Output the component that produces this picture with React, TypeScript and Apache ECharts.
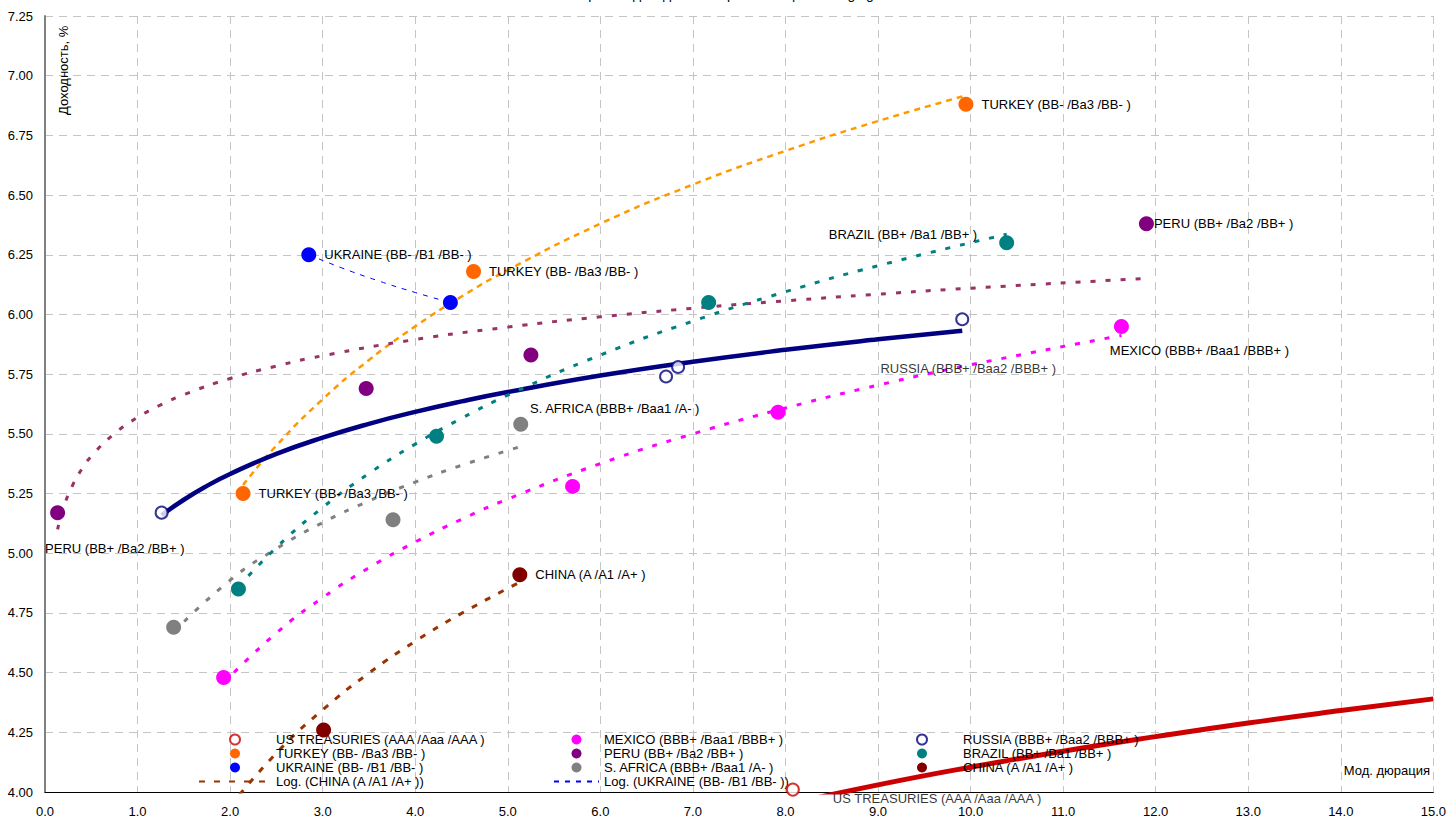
import React, { useEffect, useRef } from 'react';
import * as echarts from 'echarts';

// ---- Data (modified duration, yield %) ----
const usDur = [8.08];
const usYld = [4.01];
const turkeyDur = [2.14, 4.63, 9.95];
const turkeyYld = [5.25, 6.18, 6.88];
const ukraineDur = [2.85, 4.38];
const ukraineYld = [6.25, 6.05];
const mexicoDur = [1.93, 5.7, 7.92, 11.63];
const mexicoYld = [4.48, 5.28, 5.59, 5.95];
const peruDur = [0.136, 3.47, 5.25, 11.9];
const peruYld = [5.17, 5.69, 5.83, 6.38];
const safricaDur = [1.39, 3.76, 5.14];
const safricaYld = [4.69, 5.14, 5.54];
const russiaDur = [1.26, 6.71, 6.84, 9.91];
const russiaYld = [5.17, 5.74, 5.78, 5.98];
const brazilDur = [2.09, 4.23, 7.17, 10.39];
const brazilYld = [4.85, 5.49, 6.05, 6.3];
const chinaDur = [3.01, 5.13];
const chinaYld = [4.26, 4.91];

// ---- Logarithmic trend lines ----
const usTrendDur = [8.0, 9, 10, 11, 12, 13, 14, 15];
const usTrendYld = [3.947, 4.03, 4.104, 4.171, 4.232, 4.289, 4.341, 4.39];
const turkeyTrendDur = [2.14, 2.5, 3, 3.5, 4, 4.5, 5, 6, 7, 8, 9, 9.95];
const turkeyTrendYld = [5.286, 5.451, 5.645, 5.809, 5.95, 6.075, 6.186, 6.38, 6.544, 6.685, 6.81, 6.917];
const ukraineTrendDur = [2.85, 3.2, 3.6, 4.0, 4.38];
const ukraineTrendYld = [6.25, 6.196, 6.141, 6.092, 6.05];
const mexicoTrendDur = [1.93, 2.5, 3, 3.5, 4, 4.5, 5, 6, 7, 8, 9, 10, 11.63];
const mexicoTrendYld = [4.457, 4.666, 4.814, 4.939, 5.047, 5.142, 5.227, 5.375, 5.5, 5.608, 5.704, 5.789, 5.912];
const peruTrendDur = [0.136, 0.2, 0.3, 0.4, 0.5, 0.75, 1, 1.25, 1.5, 2, 2.5, 3, 4, 5, 6, 7, 8, 9, 10, 11.9];
const peruTrendYld = [5.1, 5.191, 5.286, 5.354, 5.406, 5.501, 5.569, 5.621, 5.664, 5.732, 5.784, 5.827, 5.895, 5.947, 5.99, 6.026, 6.057, 6.085, 6.11, 6.151];
const safricaTrendDur = [1.39, 2, 2.5, 3, 3.5, 4, 4.5, 5.14];
const safricaTrendYld = [4.67, 4.887, 5.019, 5.128, 5.219, 5.298, 5.368, 5.447];
const russiaTrendDur = [1.26, 1.5, 1.75, 2, 2.5, 3, 3.5, 4, 4.5, 5, 6, 7, 8, 9, 9.91];
const russiaTrendYld = [5.159, 5.224, 5.282, 5.332, 5.416, 5.484, 5.542, 5.592, 5.636, 5.675, 5.744, 5.802, 5.852, 5.896, 5.932];
const brazilTrendDur = [2.09, 2.5, 3, 3.5, 4, 4.5, 5, 6, 7, 8, 9, 10.39];
const brazilTrendYld = [4.859, 5.024, 5.192, 5.334, 5.457, 5.565, 5.662, 5.83, 5.972, 6.095, 6.204, 6.336];
const chinaTrendDur = [2.0, 2.5, 3, 3.5, 4, 4.5, 5.13];
const chinaTrendYld = [3.94, 4.163, 4.344, 4.498, 4.631, 4.748, 4.879];

// ---- Names ----
const US = 'US TREASURIES (AAA /Aaa /AAA )';
const TURKEY = 'TURKEY (BB- /Ba3 /BB- )';
const UKRAINE = 'UKRAINE (BB- /B1 /BB- )';
const MEXICO = 'MEXICO (BBB+ /Baa1 /BBB+ )';
const PERU = 'PERU (BB+ /Ba2 /BB+ )';
const SAFRICA = 'S. AFRICA (BBB+ /Baa1 /A- )';
const RUSSIA = 'RUSSIA (BBB+ /Baa2 /BBB+ )';
const BRAZIL = 'BRAZIL (BB+ /Ba1 /BB+ )';
const CHINA = 'CHINA (A /A1 /A+ )';
const LOG_CHINA = 'Log. (' + CHINA + ')';
const LOG_UKRAINE = 'Log. (' + UKRAINE + ')';

const FONT = 'Arial, "Liberation Sans", sans-serif';
const FS = 13;

const pairs = (xs: number[], ys: number[]) => xs.map((x, i) => [x, ys[i]]);

function pointSeries(
  name: string,
  xs: number[],
  ys: number[],
  color: string,
  labels: Record<number, any>,
  hollow = false
) {
  return {
    name,
    type: 'scatter',
    z: 5,
    symbol: hollow ? 'emptyCircle' : 'circle',
    symbolSize: hollow ? 12 : 15,
    itemStyle: hollow
      ? { color, borderColor: color, borderWidth: 2.5 }
      : { color, opacity: 1 },
    label: { show: false, formatter: '{a}', color: '#000', fontSize: FS, fontFamily: FONT },
    emphasis: { disabled: true },
    data: xs.map((x, i) =>
      labels[i]
        ? { value: [x, ys[i]], label: { show: true, ...labels[i] } }
        : [x, ys[i]]
    ),
  };
}

function trendSeries(name: string, xs: number[], ys: number[], color: string, width: number, type: any) {
  return {
    name,
    type: 'line',
    z: 3,
    smooth: 0.5,
    symbol: 'none',
    showSymbol: false,
    clip: true,
    lineStyle: { color, width, type, cap: 'butt' },
    itemStyle: { color },
    emphasis: { disabled: true },
    data: pairs(xs, ys),
  };
}

const DOT = [5, 10];

const legendBase = {
  orient: 'vertical',
  top: 728,
  itemHeight: 10,
  itemGap: 1,
  align: 'left',
  selectedMode: false,
  textStyle: { fontSize: FS, color: '#000', fontFamily: FONT },
};

const option: any = {
  animation: false,
  backgroundColor: '#ffffff',
  textStyle: { fontFamily: FONT },
  title: {
    text: 'Кривые доходности еврооблигаций Emerging Markets',
    left: 580,
    top: -13,
    padding: 0,
    textStyle: { fontSize: 14, fontWeight: 'normal', color: '#000', fontFamily: FONT },
  },
  grid: { left: 45, right: 14, top: 16, bottom: 28, containLabel: false },
  xAxis: {
    type: 'value',
    min: 0,
    max: 15,
    interval: 1,
    axisLine: { show: true, onZero: false, lineStyle: { color: '#000', width: 1 } },
    axisTick: { show: false },
    axisLabel: {
      margin: 13,
      color: '#000',
      fontSize: FS,
      fontFamily: FONT,
      formatter: (v: number) => v.toFixed(1),
    },
    splitLine: { show: true, lineStyle: { color: '#c4c4c4', type: [8, 6], width: 1 } },
  },
  yAxis: {
    type: 'value',
    min: 4,
    max: 7.25,
    interval: 0.25,
    axisLine: { show: true, onZero: false, lineStyle: { color: '#808080', width: 2 } },
    axisTick: { show: false },
    axisLabel: {
      margin: 12,
      color: '#000',
      fontSize: FS,
      fontFamily: FONT,
      formatter: (v: number) => v.toFixed(2),
    },
    splitLine: { show: true, lineStyle: { color: '#c4c4c4', type: [8, 6], width: 1 } },
  },
  legend: [
    {
      ...legendBase,
      left: 193,
      itemWidth: 72,
      data: [US, TURKEY, UKRAINE, { name: LOG_CHINA, itemStyle: { opacity: 0 } }],
    },
    {
      ...legendBase,
      left: 548,
      itemWidth: 45,
      data: [MEXICO, PERU, SAFRICA, { name: LOG_UKRAINE, itemStyle: { opacity: 0 } }],
    },
    {
      ...legendBase,
      left: 911,
      itemWidth: 72,
      data: [RUSSIA, BRAZIL, CHINA],
    },
  ],
  graphic: [
    {
      type: 'text',
      x: 63,
      y: 115,
      rotation: Math.PI / 2,
      style: {
        text: 'Доходность, %',
        fill: '#000',
        font: FS + 'px ' + FONT,
        textAlign: 'left',
        textVerticalAlign: 'middle',
      },
      z: 10,
    },
    {
      type: 'text',
      x: 1430,
      y: 770,
      style: {
        text: 'Мод. дюрация',
        fill: '#000',
        font: FS + 'px ' + FONT,
        textAlign: 'right',
        textVerticalAlign: 'middle',
      },
      z: 10,
    },
  ],
  series: [
    trendSeries('Log. (' + US + ')', usTrendDur, usTrendYld, '#CC0000', 5, 'solid'),
    trendSeries('Log. (' + TURKEY + ')', turkeyTrendDur, turkeyTrendYld, '#FF9900', 2.5, [6, 5]),
    trendSeries(LOG_UKRAINE, ukraineTrendDur, ukraineTrendYld, '#0000FF', 1, [5, 6]),
    trendSeries('Log. (' + MEXICO + ')', mexicoTrendDur, mexicoTrendYld, '#FF00FF', 3, DOT),
    trendSeries('Log. (' + PERU + ')', peruTrendDur, peruTrendYld, '#993366', 3, DOT),
    trendSeries('Log. (' + SAFRICA + ')', safricaTrendDur, safricaTrendYld, '#808080', 3, DOT),
    trendSeries('Log. (' + RUSSIA + ')', russiaTrendDur, russiaTrendYld, '#000080', 4.5, 'solid'),
    trendSeries('Log. (' + BRAZIL + ')', brazilTrendDur, brazilTrendYld, '#008080', 3, DOT),
    trendSeries(LOG_CHINA, chinaTrendDur, chinaTrendYld, '#993300', 3, [6, 9]),

    pointSeries(US, usDur, usYld, '#CC0000', { 0: { position: 'right', distance: 33, offset: [0, 9] } }, true),
    pointSeries(TURKEY, turkeyDur, turkeyYld, '#FF6600', {
      0: { position: 'right', distance: 8 },
      1: { position: 'right', distance: 8 },
      2: { position: 'right', distance: 8 },
    }),
    pointSeries(UKRAINE, ukraineDur, ukraineYld, '#0000FF', { 0: { position: 'right', distance: 8 } }),
    pointSeries(MEXICO, mexicoDur, mexicoYld, '#FF00FF', { 3: { position: 'bottom', distance: 10, offset: [78, 0] } }),
    pointSeries(PERU, peruDur, peruYld, '#800080', {
      0: { position: [-5, 37] },
      3: { position: 'right', distance: 0 },
    }),
    pointSeries(SAFRICA, safricaDur, safricaYld, '#808080', { 2: { position: 'top', distance: 2, offset: [94, 0] } }),
    pointSeries(RUSSIA, russiaDur, russiaYld, '#000080', { 3: { position: 'bottom', distance: 36, offset: [6, 0] } }, true),
    pointSeries(BRAZIL, brazilDur, brazilYld, '#008080', { 3: { position: 'left', distance: 22, offset: [0, -8] } }),
    pointSeries(CHINA, chinaDur, chinaYld, '#800000', { 1: { position: 'right', distance: 8 } }),
  ],
};

export default function App() {
  const ref = useRef<HTMLDivElement>(null);
  useEffect(() => {
    if (!ref.current) return;
    const chart = echarts.init(ref.current, null, { renderer: 'svg' });
    chart.setOption(option);
    return () => chart.dispose();
  }, []);
  return (
    <div
      ref={ref}
      style={{ position: 'fixed', left: 0, top: 0, width: 1449, height: 820, background: '#fff' }}
    />
  );
}
